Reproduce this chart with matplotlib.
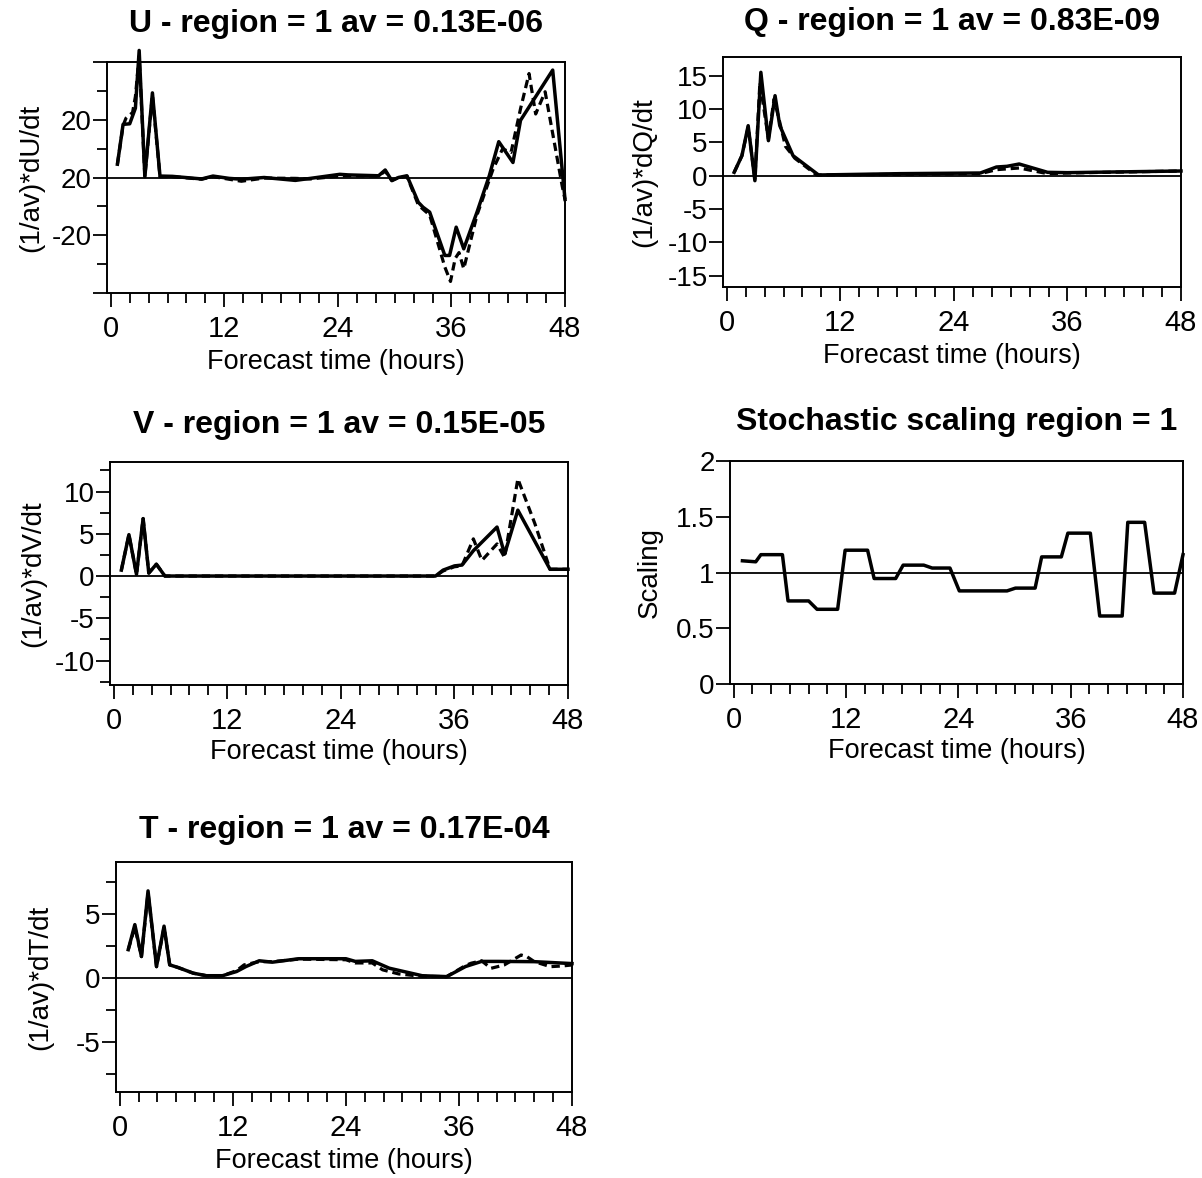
import matplotlib
matplotlib.use('Agg')
import matplotlib.pyplot as plt
from matplotlib.ticker import FixedLocator, FixedFormatter, MultipleLocator

plt.rcParams['font.family'] = ['Liberation Sans', 'DejaVu Sans']
plt.rcParams['lines.scale_dashes'] = False

# ---- data (hours, normalised tendency) ----
u_solid_t = [0.7, 1.3, 2.0, 2.6, 3.0, 3.6, 4.4, 5.2, 6.5, 9.6, 10.8, 12.5, 13.8, 16.2, 19.5, 21.1,
             24.2, 25.1, 28.3, 29.0, 29.7, 30.4, 31.3, 32.5, 33.0, 33.7, 35.3, 35.8, 36.5, 37.3,
             38.7, 40.0, 41.0, 42.5, 43.3, 46.7, 48.0]
u_solid = [4.6, 18.4, 18.6, 24, 44, 0.3, 29.3, 0.5, 0.4, -0.5, 0.5, -0.3, -0.6, 0, -1.0, -0.3,
           1.1, 0.9, 0.6, 2.6, -1.1, 0, 0.6, -8.6, -10.3, -12, -27, -27, -17.2, -24.7,
           -12, 0.6, 12.4, 5.2, 19.8, 37.2, -7.6]
u_dash_t = [0.7, 1.3, 1.6, 2.3, 2.6, 3.0, 3.6, 4.4, 5.2, 6.5, 9.6, 10.8, 12.5, 13.8, 16.2, 19.5,
            21.1, 24.2, 25.1, 28.3, 29.0, 29.7, 30.4, 31.3, 32.5, 33.0, 33.7, 35.3, 35.9, 36.4,
            36.8, 37.3, 38.7, 40.4, 41.4, 42.3, 43.3, 44.2, 44.9, 45.9, 47.7, 48.0]
u_dash = [4.6, 18, 20.5, 22.5, 28, 42, 0.3, 28.5, 0.3, 0.3, -0.6, 0.3, -0.6, -1.3, -0.2, -0.3,
          -0.5, 0.5, 0.6, 0.5, 2.2, -1.0, 0, 0.4, -9.5, -11, -13, -31, -36, -28,
          -26, -31.6, -13, 2.9, 9.9, 8.7, 23.8, 36, 22, 29.7, -2.9, -7.6]

q_solid_t = [0.78, 1.6, 2.26, 2.97, 3.6, 4.4, 5.1, 5.6, 7.0, 9.7, 18.3, 26.8, 28.5, 29.6, 30.9,
             33.9, 36.0, 48.0]
q_solid = [0.5, 3, 7.5, -0.75, 15.5, 5.25, 12, 7.5, 3, 0.1, 0.3, 0.4, 1.3, 1.4, 1.75,
           0.5, 0.45, 0.7]
q_dash_t = [0.78, 1.6, 2.26, 2.97, 3.5, 4.4, 5.0, 5.6, 6.2, 7.2, 9.5, 26.8, 28.5, 30.9, 33.9,
            36.0, 48.0]
q_dash = [0.5, 3, 7.3, -0.5, 14, 5.5, 11.5, 8, 4.4, 2.6, 0.1, 0.3, 0.9, 1.15, 0.3,
          0.4, 0.7]

v_solid_t = [0.8, 1.6, 2.4, 3.1, 3.7, 4.5, 5.4, 34.0, 34.8, 36.0, 36.8, 38.0, 40.5, 41.3, 42.7,
             46.1, 48.0]
v_solid = [0.7, 4.9, 0.2, 6.8, 0.35, 1.4, 0, 0, 0.7, 1.2, 1.3, 3.0, 5.8, 2.6, 7.8,
           0.8, 0.8]
v_dash_t = [0.8, 1.6, 2.4, 3.1, 3.7, 4.5, 5.4, 34.0, 34.8, 36.0, 36.8, 38.0, 38.9, 40.5, 41.3,
            42.7, 44.5, 46.1, 48.0]
v_dash = [0.7, 4.9, 0.2, 6.8, 0.35, 1.4, 0, 0, 0.6, 1.1, 1.2, 4.4, 1.85, 3.8, 2.2,
          11.5, 6.2, 0.8, 0.8]

scale_t = [0.93, 2.35, 2.9, 5.2, 5.8, 8.0, 8.9, 11.1, 11.9, 14.3, 15.0, 17.3, 18.1, 20.3, 21.2,
           23.1, 24.1, 29.2, 30.1, 32.2, 32.9, 35.0, 35.7, 38.1, 39.1, 41.5, 42.1, 43.9, 44.9,
           47.1, 48.0]
scale = [1.105, 1.096, 1.16, 1.16, 0.745, 0.745, 0.67, 0.67, 1.2, 1.2, 0.946, 0.946, 1.066,
         1.066, 1.04, 1.04, 0.835, 0.835, 0.86, 0.86, 1.14, 1.14, 1.353, 1.353, 0.61, 0.61,
         1.45, 1.45, 0.815, 0.815, 1.16]

t_solid_t = [0.9, 1.6, 2.3, 3.0, 3.9, 4.7, 5.3, 6.2, 7.8, 9.2, 10.9, 12.4, 13.4, 14.8, 16.2,
             19.0, 24.0, 25.0, 26.8, 28.6, 32.1, 34.7, 36.7, 38.4, 40.2, 44.0, 48.0]
t_solid = [2.24, 4.2, 1.7, 6.84, 0.92, 4.08, 1.05, 0.84, 0.4, 0.2, 0.2, 0.53, 0.92, 1.37, 1.26,
           1.53, 1.53, 1.32, 1.37, 0.79, 0.2, 0.13, 0.92, 1.32, 1.32, 1.3, 1.15]
t_dash_t = [0.9, 1.6, 2.3, 3.0, 3.9, 4.7, 5.3, 6.2, 7.8, 9.2, 10.9, 12.4, 13.2, 14.8, 16.2,
            19.0, 24.0, 25.0, 26.8, 27.9, 29.6, 32.1, 34.7, 36.7, 37.3, 38.4, 39.4, 40.8, 42.6,
            43.2, 44.0, 45.7, 46.9, 48.0]
t_dash = [2.24, 4.0, 1.7, 6.7, 0.9, 4.0, 1.05, 0.84, 0.4, 0.2, 0.2, 0.6, 1.05, 1.3, 1.3,
          1.5, 1.45, 1.2, 1.2, 0.66, 0.34, 0.15, 0.13, 1.0, 1.18, 1.37, 0.78, 1.04, 1.82,
          1.7, 1.3, 0.91, 0.96, 1.04]

hour_ticks = [0, 12, 24, 36, 48]

W, H = 1202, 1178
fig = plt.figure(figsize=(W / 100, H / 100), dpi=100)


def panel(box, title, ylabel, ylim, yticks, ylabels, yminor, lines, ref, ylab_x, tpad):
    l, t, r, b = box
    ax = fig.add_axes([l / W, 1 - b / H, (r - l) / W, (b - t) / H])
    ax.axhline(ref, color='k', lw=1.3, zorder=1)
    for x, y, dashed in lines:
        if dashed:
            ax.plot(x, y, color='k', lw=2.3, dashes=(6, 3.5), clip_on=False, zorder=3)
        else:
            ax.plot(x, y, color='k', lw=2.5, clip_on=False, zorder=2)
    ax.set_xlim(-0.4, 48)
    ax.set_ylim(*ylim)
    ax.xaxis.set_major_locator(FixedLocator(hour_ticks))
    ax.xaxis.set_minor_locator(MultipleLocator(2))
    ax.yaxis.set_major_locator(FixedLocator(yticks))
    ax.yaxis.set_major_formatter(FixedFormatter(ylabels))
    if yminor:
        ax.yaxis.set_minor_locator(FixedLocator(yminor))
    ax.tick_params(which='major', direction='out', length=10, width=1.3, labelsize=21)
    ax.tick_params(axis='x', which='major', pad=6)
    ax.tick_params(axis='y', which='major', pad=1, labelsize=20)
    ax.tick_params(which='minor', direction='out', length=7, width=1.3)
    for s in ax.spines.values():
        s.set_linewidth(1.4)
    ax.set_title(title, fontsize=23, fontweight='bold', pad=tpad)
    ax.set_xlabel('Forecast time (hours)', fontsize=19.5)
    ax.xaxis.set_label_coords(0.5, -0.3)
    ax.xaxis.label.set_va('center')
    ax.set_ylabel(ylabel, fontsize=20, va='center')
    ax.yaxis.set_label_coords(ylab_x, 0.5)
    return ax


panel((107, 62, 565, 293), 'U - region = 1 av = 0.13E-06', '(1/av)*dU/dt', (-40, 40),
      [-40, -20, 0, 20, 40], ['', '-20', '20', '20', ''], [-30, -10, 10, 30],
      [(u_solid_t, u_solid, False), (u_dash_t, u_dash, True)], 0, -0.166, 21.5)

panel((723, 57, 1181, 287), 'Q - region = 1 av = 0.83E-09', '(1/av)*dQ/dt', (-16.7, 17.8),
      [-15, -10, -5, 0, 5, 10, 15], ['-15', '-10', '-5', '0', '5', '10', '15'], None,
      [(q_solid_t, q_solid, False), (q_dash_t, q_dash, True)], 0, -0.172, 19.5)

panel((110, 462, 568, 685), 'V - region = 1 av = 0.15E-05', '(1/av)*dV/dt', (-12.9, 13.5),
      [-10, -5, 0, 5, 10], ['-10', '-5', '0', '5', '10'], [-12.5, -7.5, -2.5, 2.5, 7.5, 12.5],
      [(v_solid_t, v_solid, False), (v_dash_t, v_dash, True)], 0, -0.168, 21)

panel((730, 461, 1183, 684), 'Stochastic scaling region = 1', 'Scaling', (0, 2),
      [0, 0.5, 1, 1.5, 2], ['0', '0.5', '1', '1.5', '2'], None,
      [(scale_t, scale, False)], 1, -0.177, 22)

panel((116, 862, 572, 1092), 'T - region = 1 av = 0.17E-04', '(1/av)*dT/dt', (-8.9, 9.1),
      [-5, 0, 5], ['-5', '0', '5'], [-7.5, -2.5, 2.5, 7.5],
      [(t_solid_t, t_solid, False), (t_dash_t, t_dash, True)], 0, -0.167, 17.5)

fig.savefig('out.png', dpi=100)
